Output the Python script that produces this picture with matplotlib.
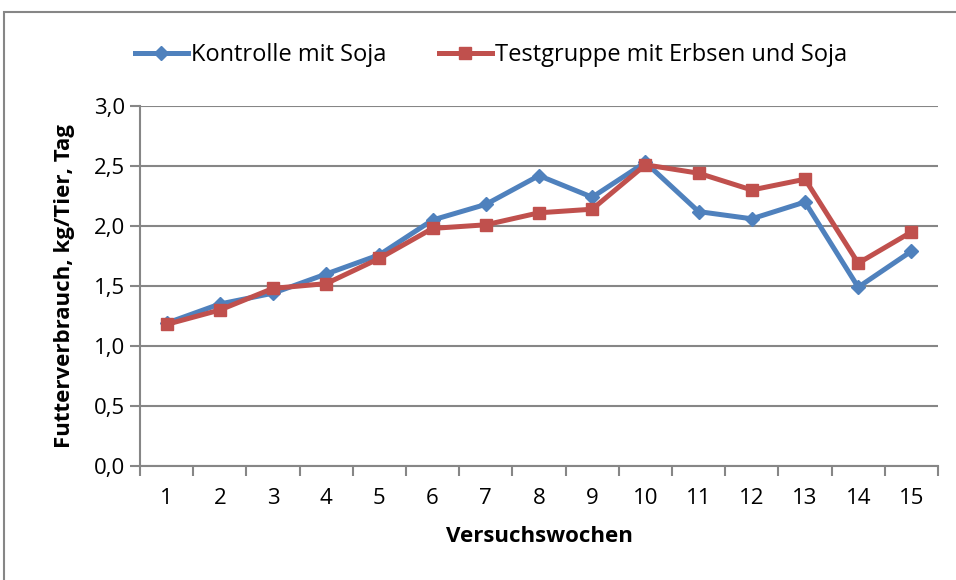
import numpy as np
import matplotlib.pyplot as plt
from matplotlib.patches import Rectangle

plt.rcParams['font.family'] = ['Open Sans', 'DejaVu Sans']

wochen = list(range(1, 16))
kontrolle = [1.19, 1.35, 1.44, 1.60, 1.76, 2.05, 2.18, 2.42, 2.24, 2.53, 2.12, 2.06, 2.20, 1.49, 1.79]
testgruppe = [1.18, 1.30, 1.48, 1.52, 1.73, 1.98, 2.01, 2.11, 2.14, 2.51, 2.44, 2.30, 2.39, 1.69, 1.95]
yticks = [0.0, 0.5, 1.0, 1.5, 2.0, 2.5, 3.0]

blau = '#4F81BD'
rot = '#C0504D'
grau = '#868686'

fig = plt.figure(figsize=(9.56, 5.8), dpi=100)
ax = fig.add_axes([140/956, 1 - 466/580, 798/956, 360/580])

x = np.arange(len(wochen))
ax.plot(x, kontrolle, color=blau, lw=3.6, marker='D', ms=7, mec=blau, mfc=blau,
        label='Kontrolle mit Soja', zorder=3)
ax.plot(x, testgruppe, color=rot, lw=3.6, marker='s', ms=8.5, mec=rot, mfc=rot,
        label='Testgruppe mit Erbsen und Soja', zorder=4)

ax.set_xlim(-0.5, len(wochen) - 0.5)
ax.set_ylim(0, 3.0)
ax.set_yticks(yticks)
ax.set_yticklabels([f'{v:.1f}'.replace('.', ',') for v in yticks])
ax.set_xticks(x)
ax.set_xticklabels([str(w) for w in wochen])
ax.set_xticks(np.arange(-0.5, len(wochen)), minor=True)
ax.tick_params(axis='x', which='major', length=0, pad=16, labelsize=16)
ax.tick_params(axis='x', which='minor', length=7, width=1.5, color=grau, direction='out')
ax.tick_params(axis='y', length=7, width=1.5, color=grau, pad=4, labelsize=16)

ax.grid(axis='y', color=grau, lw=1.5)
ax.set_axisbelow(True)
for s in ['top', 'right']:
    ax.spines[s].set_visible(False)
for s in ['left', 'bottom']:
    ax.spines[s].set_color(grau)
    ax.spines[s].set_linewidth(1.5)

ax.set_xlabel('Versuchswochen', fontsize=16, fontweight='bold', labelpad=12)
ax.set_ylabel('Futterverbrauch, kg/Tier, Tag', fontsize=16, fontweight='bold', labelpad=13)

fig.legend(loc='center', bbox_to_anchor=(491/956, 1 - 55/580), ncol=2, frameon=False,
           fontsize=17, handlelength=2.25, handletextpad=0.15, columnspacing=2.2)

fig.patches.append(Rectangle((4/956, -0.1), 1.2, 1 - 12/580 + 0.1, transform=fig.transFigure,
                             fill=False, ec=grau, lw=1.5))

fig.savefig('out.png', dpi=100)
